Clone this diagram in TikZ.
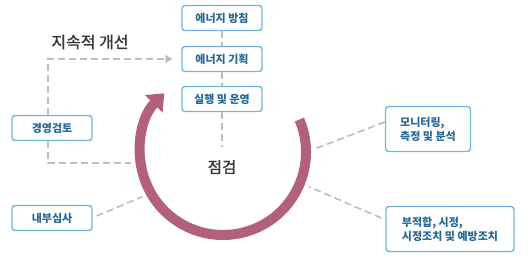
\documentclass[tikz,border=0pt]{standalone}
\usepackage{fontspec}
\setmainfont{Noto Sans CJK KR}
\newfontfamily\titlefont[FakeBold=1.2]{Noto Sans CJK KR}
\usepackage{tikz}
\usetikzlibrary{arrows.meta,positioning,calc}
\definecolor{boxline}{RGB}{110,184,218}
\definecolor{boxtext}{RGB}{36,104,150}
\definecolor{cyclerose}{RGB}{178,96,126}
\definecolor{linkgray}{RGB}{189,189,189}
\definecolor{titlegray}{RGB}{55,55,55}

\begin{document}
\begin{tikzpicture}[x=1pt, y=1pt,
    box/.style={draw=boxline, line width=1.4pt, rounded corners=3pt, fill=white,
        text=boxtext, font=\fontsize{11}{14}\selectfont\bfseries,
        minimum width=80pt, minimum height=25pt, inner sep=0pt},
    wordbox/.style={box, align=left, minimum height=45pt, inner xsep=13pt},
    link/.style={draw=linkgray, line width=1.6pt, dash pattern=on 7pt off 4pt}]
    \useasboundingbox (0,0) rectangle (528,270);

    % main flow
    \node[box] (policy) at (222,252) {에너지 방침};
    \node[box] (plan) at (222,211) {에너지 기획};
    \node[box] (operation) at (222,171) {실행 및 운영};
    \node[text=titlegray, font=\titlefont\fontsize{15.5}{18}\selectfont] (check) at (222,103) {점검};

    % cycle ring
    \node[circle, minimum size=184pt, inner sep=0pt] (ring) at (223,118) {};
    \draw[cyclerose, line width=10pt, -{Triangle[width=24pt,length=15pt]}]
        ($(ring.center)+(23:83)$) arc[start angle=23, end angle=-225, radius=83];

    % side boxes
    \node[box] (review) at (52,142) {경영검토};
    \node[box] (audit) at (52,52) {내부심사};
    \node[wordbox, minimum width=85pt] (monitor) at (428,141) {모니터링,\\측정 및 분석};
    \node[wordbox, minimum width=128pt] (nonconf) at (450,41) {부적합, 시정,\\시정조치 및 예방조치};
    \node[text=titlegray, font=\titlefont\fontsize{16}{19}\selectfont] (improve) at (90,228) {지속적 개선};

    % connectors
    \draw[link] (policy) -- (plan);
    \draw[link] (plan) -- (operation);
    \draw[link] (operation.south) -- ++(0,-35pt);
    \draw[link, -{Triangle[length=7pt,width=8pt]}, linkgray]
        ([xshift=-4pt]review.north) |- ([xshift=-9pt]plan.west);
    \draw[link] ([xshift=-4pt]review.south) |- (ring.187);
    \draw[link] ([xshift=4pt,yshift=2pt]audit.east) -- (ring.209);
    \draw[link] ([yshift=7pt]monitor.west) -- (ring.2);
    \draw[link] ([shift={(-4pt,11pt)}]nonconf.west) -- (ring.-22);
\end{tikzpicture}
\end{document}
